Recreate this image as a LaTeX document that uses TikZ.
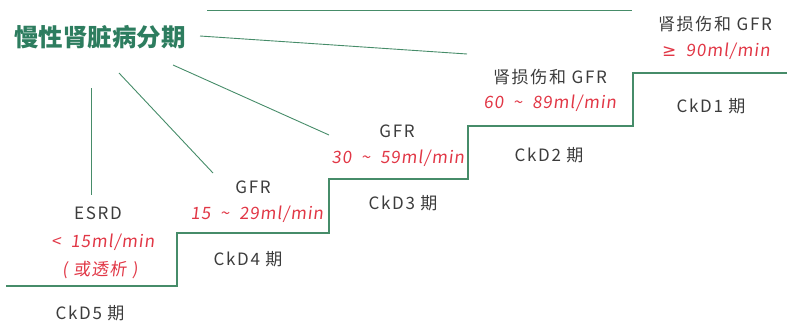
\documentclass[tikz,border=0pt]{standalone}
\usepackage{fontspec}
\setmainfont{Noto Sans CJK SC}
\newfontfamily\cjk[LetterSpace=10]{Noto Sans CJK SC}
\newfontfamily\titlefont{Noto Sans CJK SC}
\newfontfamily\redfont[FakeSlant=0.12,LetterSpace=6]{Noto Sans CJK SC}
\newfontfamily\symfont{DejaVu Sans}
\definecolor{stairgreen}{RGB}{70,140,105}
\definecolor{titlegreen}{RGB}{45,125,95}
\definecolor{txtgray}{RGB}{60,60,60}
\definecolor{txtred}{RGB}{225,55,70}
\tikzset{
  stair/.style={draw=stairgreen, line width=1.1pt},
  leader/.style={draw=stairgreen, line width=0.9pt},
  graytxt/.style={text=txtgray, font=\cjk\fontsize{17}{19}\selectfont, inner sep=0pt},
  redtxt/.style={text=txtred, font=\redfont\fontsize{17}{19}\selectfont, inner sep=0pt},
  titletxt/.style={text=titlegreen, font=\titlefont\bfseries\fontsize{24.5}{27}\selectfont, inner sep=0pt}
}
\begin{document}
\begin{tikzpicture}[x=1pt,y=-1pt]
\useasboundingbox (0,0) rectangle (787,321);
% title
\node[titletxt] (title) at (100,37) {慢性肾脏病分期};
% staircase
\coordinate (s0) at (6,286);
\coordinate (s1) at (177,286);
\coordinate (s2) at (177,233);
\coordinate (s3) at (329,233);
\coordinate (s4) at (329,179);
\coordinate (s5) at (468,179);
\coordinate (s6) at (468,126);
\coordinate (s7) at (633,126);
\coordinate (s8) at (633,73);
\coordinate (s9) at (787,73);
\draw[stair] (s0) -- (s1) -- (s2) -- (s3) -- (s4) -- (s5) -- (s6) -- (s7) -- (s8) -- (s9);
% top line
\coordinate (t0) at (207,10);
\coordinate (t1) at (632,10);
\draw[leader] (t0) -- (t1);
% leaders from title
\coordinate (a0) at (200,36);
\coordinate (a1) at (467,54);
\coordinate (b0) at (173,65);
\coordinate (b1) at (329,135);
\coordinate (c0) at (119,73);
\coordinate (c1) at (213,173);
\coordinate (d0) at (91,88);
\coordinate (d1) at (91,195);
\draw[leader] (a0) -- (a1);
\draw[leader] (b0) -- (b1);
\draw[leader] (c0) -- (c1);
\draw[leader] (d0) -- (d1);
% CKD5
\node[graytxt] (esrd) at (98,213) {ESRD};
\node[redtxt] (r5) at (103,242) {<\ \ 15ml/min};
\node[redtxt] (r5b) at (100,270) {(\,\,或透析\,\,)};
\node[graytxt] (k5) at (90,313) {CkD5 期};
% CKD4
\node[graytxt] (g4) at (253,187) {GFR};
\node[redtxt] (r4) at (257,214) {15 \ \textasciitilde{} \ 29ml/min};
\node[graytxt] (k4) at (248,259) {CkD4 期};
% CKD3
\node[graytxt] (g3) at (397,131) {GFR};
\node[redtxt] (r3) at (398,158) {30 \ \textasciitilde{} \ 59ml/min};
\node[graytxt] (k3) at (403,203) {CkD3 期};
% CKD2
\node[graytxt] (g2) at (550,77) {肾损伤和 GFR};
\node[redtxt] (r2) at (550,103) {60 \ \textasciitilde{} \ 89ml/min};
\node[graytxt] (k2) at (549,155) {CkD2 期};
% CKD1
\node[graytxt] (g1) at (715,24) {肾损伤和 GFR};
\node[redtxt] (r1) at (716,51) {{\symfont ≥}\ \ 90ml/min};
\node[graytxt] (k1) at (711,106) {CkD1 期};
\end{tikzpicture}
\end{document}
